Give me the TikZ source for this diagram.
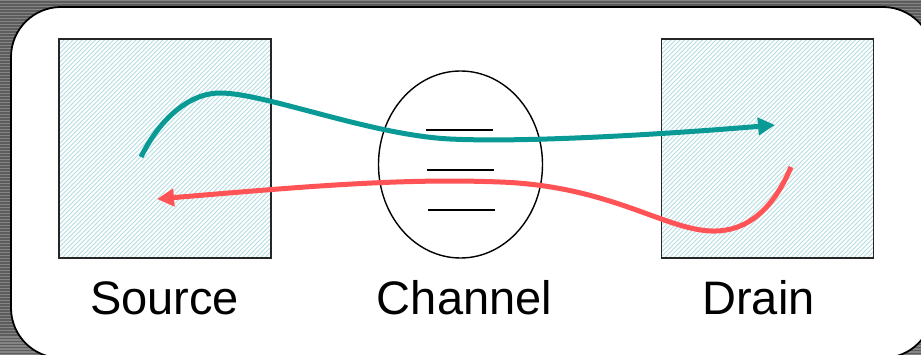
\documentclass[tikz,border=0pt]{standalone}
\usepackage{fontspec}
\setmainfont{Liberation Sans}
\usetikzlibrary{arrows.meta,shapes.geometric}
\definecolor{stripedark}{HTML}{5C5C5C}
\definecolor{stripelight}{HTML}{858585}
\definecolor{hatchcol}{HTML}{B6DDE3}
\definecolor{tealflow}{HTML}{0A9A96}
\definecolor{redflow}{HTML}{FF5356}
\tikzset{
  region/.style={draw=black!85, line width=1.8pt, inner sep=0pt,
    minimum width=212pt, minimum height=219pt,
    path picture={
      \foreach \k in {-240,-235.5,...,240}
        \draw[hatchcol, line width=1pt]
          ([xshift=\k pt]path picture bounding box.south west) --
          ++(240pt,240pt);
    }},
  channelshape/.style={ellipse, draw=black, line width=1.4pt, inner sep=0pt,
    minimum width=164pt, minimum height=187pt},
  gate/.style={line width=2pt, black},
  label/.style={anchor=base, font=\fontsize{47pt}{50pt}\selectfont, inner sep=0pt},
  flow/.style={line width=5pt, -{Triangle[length=17pt,width=17pt]}},
}
\begin{document}
\begin{tikzpicture}[x=1pt, y=-1pt]
  \useasboundingbox (0,0) rectangle (921,355);
  % striped frame background
  \fill[stripedark] (0,0) rectangle (921,355);
  \foreach \y in {0,3,...,354}
    \fill[stripelight] (0,\y) rectangle (921,\y+1.5);
  % white panel
  \begin{scope}
    \clip (0,0) rectangle (921,355);
    \draw[fill=white, draw=black, line width=1.8pt, rounded corners=50pt]
      (11,7) rectangle (933,358);
  \end{scope}

  % source, channel, drain
  \node[region] (source) at (165,148.5) {};
  \node[region] (drain) at (767.5,148.5) {};
  \node[channelshape] (channel) at (460.5,164.5) {};
  \coordinate (g1a) at (426,130.5); \coordinate (g1b) at (492.5,130.5);
  \coordinate (g2a) at (427,170.5); \coordinate (g2b) at (493.5,170.5);
  \coordinate (g3a) at (428,210.5); \coordinate (g3b) at (494.5,210.5);
  \draw[gate] (g1a) -- (g1b);
  \draw[gate] (g2a) -- (g2b);
  \draw[gate] (g3a) -- (g3b);

  % flows
  \coordinate (tstart) at (141,157);
  \coordinate (tpeak) at (220,93);
  \coordinate (tmid) at (450,139);
  \coordinate (tend) at (775,125);
  \draw[flow, tealflow] (tstart) .. controls (160,118) and (190,93) .. (tpeak)
    .. controls (265,93) and (370,135) .. (tmid)
    .. controls (530,143) and (680,133) .. (tend);

  \coordinate (rstart) at (791,167);
  \coordinate (rlow) at (712,231);
  \coordinate (rmid) at (500,182);
  \coordinate (rend) at (157,199);
  \draw[flow, redflow] (rstart) .. controls (775,205) and (750,232) .. (rlow)
    .. controls (665,230) and (610,186) .. (rmid)
    .. controls (400,178) and (300,187) .. (rend);

  % labels
  \node[label] (lsource) at (164.5,315) {Source};
  \node[label] (lchannel) at (464.5,315) {Channel};
  \node[label] (ldrain) at (758.5,315) {Drain};
\end{tikzpicture}
\end{document}
